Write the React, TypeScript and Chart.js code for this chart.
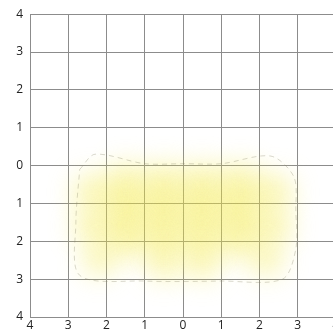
import React, { useEffect, useRef } from "react";
import { Chart, registerables } from "chart.js";

Chart.register(...registerables);

const xTickLabels = ["4", "3", "2", "1", "0", "1", "2", "3", "4"];
const yTickLabels = ["4", "3", "2", "1", "0", "1", "2", "3", "4"];
const tickValues = [-4, -3, -2, -1, 0, 1, 2, 3, 4];

// glow cells (centres of the yellow haze)
const glowX = [-1.5, -0.5, 0.5, 1.5, -1.5, -0.5, 0.5, 1.5, -1.5, -0.5, 0.5, 1.5, -2.4, 2.4, -2.4, 2.4, -2.2, 2.2, -0.5, 0.5];
const glowY = [-0.5, -0.5, -0.5, -0.5, -1.2, -1.2, -1.2, -1.2, -1.9, -1.9, -1.9, -1.9, -0.7, -0.7, -1.6, -1.6, -2.5, -2.5, -2.6, -2.6];
const glowR = [22, 22, 22, 22, 22, 22, 22, 22, 22, 22, 22, 22, 18, 18, 18, 18, 16, 16, 16, 16];

// faint dashed outline
const outlineX = [-2.7, -2.3, -1, 0, 1, 2.3, 2.9, 2.95, 2.95, 2.6, 1, -1, -2.7, -2.8, -2.7];
const outlineY = [-0.1, 0.3, 0.05, 0.05, 0.05, 0.25, -0.3, -1.2, -2.2, -3.0, -3.05, -3.05, -2.9, -1.5, -0.1];

export default function App() {
  const ref = useRef<HTMLCanvasElement | null>(null);
  useEffect(() => {
    document.body.style.margin = "0";
    document.body.style.overflow = "hidden";
    const blurPlugin = {
      id: "glowBlur",
      beforeDatasetDraw(chart: any, args: any) {
        if (args.index === 0) {
          chart.ctx.save();
          chart.ctx.filter = "blur(13px)";
        }
      },
      afterDatasetDraw(chart: any, args: any) {
        if (args.index === 0) chart.ctx.restore();
      },
    };
    const chart = new Chart(ref.current as HTMLCanvasElement, {
      type: "bubble",
      data: {
        datasets: [
          {
            type: "bubble",
            data: glowX.map((x, i) => ({ x, y: glowY[i], r: glowR[i] })),
            backgroundColor: "rgba(242,232,70,0.40)",
            borderWidth: 0,
            order: 2,
          } as any,
          {
            type: "line",
            data: outlineX.map((x, i) => ({ x, y: outlineY[i] })),
            borderColor: "rgba(130,125,100,0.3)",
            borderWidth: 1,
            borderDash: [5, 4],
            pointRadius: 0,
            tension: 0.3,
            fill: false,
            order: 1,
          } as any,
        ],
      },
      options: {
        animation: false,
        responsive: false,
        maintainAspectRatio: false,
        layout: { autoPadding: false, padding: { top: 11, right: 9, left: 0, bottom: 0 } },
        plugins: { legend: { display: false }, tooltip: { enabled: false } },
        scales: {
          x: {
            type: "linear",
            min: -4,
            max: 4,
            afterBuildTicks: (s: any) => {
              s.ticks = tickValues.map((v) => ({ value: v }));
            },
            afterFit: (s: any) => {
              s.height = 16;
            },
            ticks: {
              callback: (_v: any, i: number) => xTickLabels[i],
              color: "#222",
              font: { family: "Open Sans", size: 12 },
              padding: 1,
              maxRotation: 0,
            },
            grid: { color: "#8c8c8c", lineWidth: 1, drawTicks: false },
            border: { color: "#8c8c8c" },
          },
          y: {
            type: "linear",
            min: -4,
            max: 4,
            afterBuildTicks: (s: any) => {
              s.ticks = tickValues.map((v) => ({ value: v }));
            },
            afterFit: (s: any) => {
              s.width = 30;
            },
            ticks: {
              callback: (_v: any, i: number) => yTickLabels[8 - i],
              color: "#222",
              font: { family: "Open Sans", size: 12 },
              padding: 7,
            },
            grid: { color: "#8c8c8c", lineWidth: 1, drawTicks: false },
            border: { color: "#8c8c8c" },
          },
        },
      },
      plugins: [blurPlugin],
    });
    return () => chart.destroy();
  }, []);
  return (
    <div style={{ position: "absolute", left: 0, top: 0, width: 345, height: 333 }}>
      <canvas ref={ref} width={345} height={333} style={{ width: 345, height: 333 }} />
    </div>
  );
}
